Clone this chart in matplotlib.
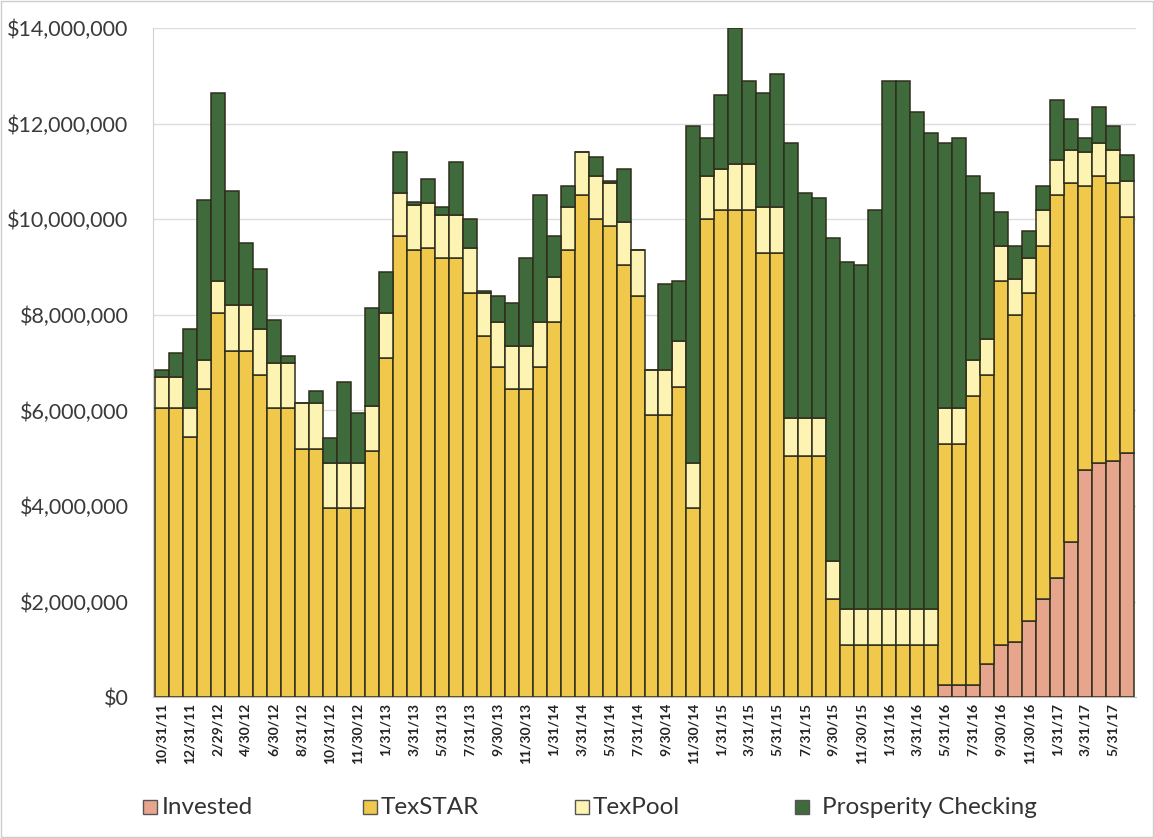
import matplotlib
matplotlib.use("Agg")
import matplotlib.pyplot as plt
from matplotlib.patches import Rectangle
import numpy as np

plt.rcParams['font.family'] = ['Lato', 'DejaVu Sans']

# month-end balances (millions of dollars)
dates = ["10/31/11", "11/30/11", "12/31/11", "1/31/12", "2/29/12", "3/31/12", "4/30/12",
         "5/31/12", "6/30/12", "7/31/12", "8/31/12", "9/30/12", "10/31/12", "11/15/12",
         "11/30/12", "12/31/12", "1/31/13", "2/28/13", "3/31/13", "4/30/13", "5/31/13",
         "6/30/13", "7/31/13", "8/31/13", "9/30/13", "10/31/13", "11/30/13", "12/31/13",
         "1/31/14", "2/28/14", "3/31/14", "4/30/14", "5/31/14", "6/30/14", "7/31/14",
         "8/31/14", "9/30/14", "10/31/14", "11/30/14", "12/31/14", "1/31/15", "2/28/15",
         "3/31/15", "4/30/15", "5/31/15", "6/30/15", "7/31/15", "8/31/15", "9/30/15",
         "10/31/15", "11/30/15", "12/31/15", "1/31/16", "2/29/16", "3/31/16", "4/30/16",
         "5/31/16", "6/30/16", "7/31/16", "8/31/16", "9/30/16", "10/31/16", "11/30/16",
         "12/31/16", "1/31/17", "2/28/17", "3/31/17", "4/30/17", "5/31/17", "6/30/17"]

invested = [0]*56 + [0.25, 0.25, 0.25, 0.70, 1.10, 1.15, 1.60, 2.05, 2.50, 3.25,
                     4.75, 4.90, 4.95, 5.10]

texstar = [6.05, 6.05, 5.45, 6.45, 8.05, 7.25, 7.25, 6.75, 6.05, 6.05,
           5.20, 5.20, 3.95, 3.95, 3.95, 5.15, 7.10, 9.65, 9.35, 9.40,
           9.20, 9.20, 8.45, 7.55, 6.90, 6.45, 6.45, 6.90, 7.85, 9.35,
           10.50, 10.00, 9.85, 9.05, 8.40, 5.90, 5.90, 6.50, 3.95, 10.00,
           10.20, 10.20, 10.20, 9.30, 9.30, 5.05, 5.05, 5.05, 2.05, 1.10,
           1.10, 1.10, 1.10, 1.10, 1.10, 1.10, 5.05, 5.05, 6.05, 6.05,
           7.60, 6.85, 6.85, 7.40, 8.00, 7.50, 5.95, 6.00, 5.80, 4.95]

texpool = [0.65, 0.65, 0.60, 0.60, 0.65, 0.95, 0.95, 0.95, 0.95, 0.95,
           0.95, 0.95, 0.95, 0.95, 0.95, 0.95, 0.95, 0.90, 0.95, 0.95,
           0.90, 0.90, 0.95, 0.90, 0.95, 0.90, 0.90, 0.95, 0.95, 0.90,
           0.90, 0.90, 0.90, 0.90, 0.95, 0.95, 0.95, 0.95, 0.95, 0.90,
           0.85, 0.95, 0.95, 0.95, 0.95, 0.80, 0.80, 0.80, 0.80, 0.75,
           0.75, 0.75, 0.75, 0.75, 0.75, 0.75, 0.75, 0.75, 0.75, 0.75,
           0.75, 0.75, 0.75, 0.75, 0.75, 0.70, 0.70, 0.70, 0.70, 0.75]

checking = [0.15, 0.50, 1.65, 3.35, 3.95, 2.40, 1.30, 1.25, 0.90, 0.15,
            0.00, 0.25, 0.52, 1.70, 1.05, 2.05, 0.85, 0.85, 0.07, 0.50,
            0.15, 1.10, 0.60, 0.05, 0.55, 0.90, 1.85, 2.65, 0.85, 0.45,
            0.00, 0.40, 0.05, 1.10, 0.00, 0.00, 1.80, 1.25, 7.05, 0.80,
            1.55, 2.85, 1.75, 2.40, 2.80, 5.75, 4.70, 4.60, 6.75, 7.25,
            7.20, 8.35, 11.05, 11.05, 10.40, 9.95, 5.55, 5.65, 3.85, 3.05,
            0.70, 0.70, 0.55, 0.50, 1.25, 0.65, 0.30, 0.75, 0.50, 0.55]

series = [("Invested", invested, "#e8a58e"),
          ("TexSTAR", texstar, "#f0c84c"),
          ("TexPool", texpool, "#fdf4b4"),
          ("Prosperity Checking", checking, "#3f6b3c")]

fig = plt.figure(figsize=(11.54, 8.38), dpi=100)
ax = fig.add_axes([0.133, 0.168, 0.851, 0.7984])

x = np.arange(len(dates))
bottom = np.zeros(len(dates))
for name, vals, col in series:
    v = np.array(vals) * 1e6
    ax.bar(x, v, bottom=bottom, width=1.0, color=col, edgecolor="#2f2e1c",
           linewidth=1.1, zorder=3)
    bottom += v

ax.set_xlim(-0.6, len(dates) - 0.4)
ax.set_ylim(0, 14e6)
ax.set_yticks(np.arange(0, 14.1e6, 2e6))
ax.set_yticklabels(["${:,.0f}".format(t) for t in np.arange(0, 14.1e6, 2e6)],
                   fontsize=15.5, color="#3a3a3a")
ax.yaxis.grid(True, color="#dcdcdc", linewidth=1, zorder=0)
ax.set_axisbelow(True)

ax.set_xticks(x[::2])
ax.set_xticklabels(dates[::2], rotation=90, fontsize=10, fontweight="bold",
                   color="#222222")
ax.tick_params(axis="y", length=0, pad=18)
ax.tick_params(axis="x", length=0, pad=4)

for s in ["top", "right"]:
    ax.spines[s].set_visible(False)
ax.spines["left"].set_color("#d0d0d0")
ax.spines["bottom"].set_color("#bfbfbf")

# legend row under the axis labels
W, H = fig.get_size_inches() * fig.dpi
legend_x = [143, 363, 575, 795]
text_x = [162, 381, 593, 822]
for (name, vals, col), sx, tx in zip(series, legend_x, text_x):
    fig.add_artist(Rectangle((sx / W, 1 - 814 / H), 14 / W, 14 / H,
                             facecolor=col, edgecolor="#555555", linewidth=1,
                             transform=fig.transFigure))
    fig.text(tx / W, 1 - 807 / H, name, fontsize=17.5, color="#333333",
             va="center", ha="left")

fig.add_artist(Rectangle((0.001, 0.001), 0.998, 0.998, fill=False,
                         edgecolor="#cccccc", linewidth=1,
                         transform=fig.transFigure))

fig.savefig("out.png", dpi=100)
